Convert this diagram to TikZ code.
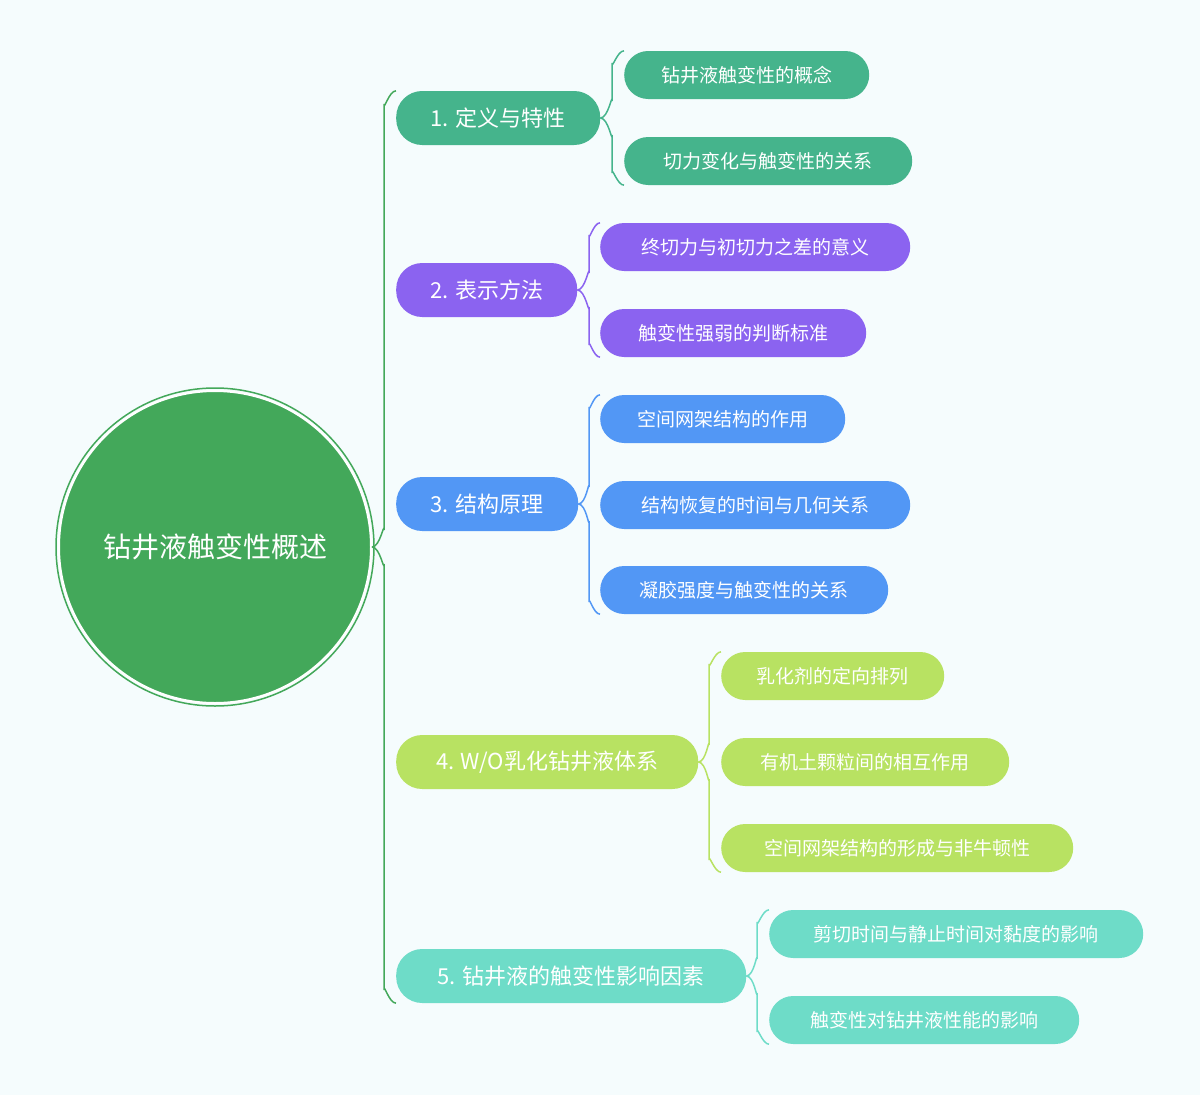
\documentclass[tikz,border=0pt]{standalone}
\usepackage{fontspec}
\setmainfont{Noto Sans CJK SC}
\definecolor{bg}{HTML}{F5FCFD}
\definecolor{cc}{HTML}{43A85A}
\definecolor{ca}{HTML}{45B48C}
\definecolor{cb}{HTML}{8B63F0}
\definecolor{cd}{HTML}{5297F5}
\definecolor{ce}{HTML}{B8E262}
\definecolor{cf}{HTML}{6EDCC8}
\begin{document}
\begin{tikzpicture}[x=1pt,y=-1pt,
 mainbox/.style={rounded corners=26pt,minimum height=54pt,inner xsep=14pt,text=white,font=\fontsize{22}{24}\selectfont,anchor=west},
 childbox/.style={rounded corners=24pt,minimum height=48pt,inner xsep=14pt,text=white,font=\fontsize{19}{21}\selectfont,anchor=west},
 br/.style={line width=1.5pt}]
\fill[bg] (0,0) rectangle (1200,1095);
\node[circle,fill=cc,draw=white,line width=2pt,minimum size=312pt,text=white,font=\fontsize{28}{30}\selectfont] (c) at (215,547) {钻井液触变性概述};
\draw[cc,line width=1.5pt] (215,547) circle (159);
\node[mainbox,fill=ca,minimum width=204pt] (m1) at (396,118) {1. 定义与特性};
\node[mainbox,fill=cb,minimum width=181pt] (m2) at (396,290) {2. 表示方法};
\node[mainbox,fill=cd,minimum width=182pt] (m3) at (396,504) {3. 结构原理};
\node[mainbox,fill=ce,minimum width=302pt] (m4) at (396,762) {4. W/O乳化钻井液体系};
\node[mainbox,fill=cf,minimum width=350pt] (m5) at (396,976) {5. 钻井液的触变性影响因素};
\node[childbox,fill=ca,minimum width=245pt] (a1) at (624,75) {钻井液触变性的概念};
\node[childbox,fill=ca,minimum width=288pt] (a2) at (624,161) {切力变化与触变性的关系};
\node[childbox,fill=cb,minimum width=310pt] (b1) at (600,247) {终切力与初切力之差的意义};
\node[childbox,fill=cb,minimum width=266pt] (b2) at (600,333) {触变性强弱的判断标准};
\node[childbox,fill=cd,minimum width=245pt] (d1) at (600,419) {空间网架结构的作用};
\node[childbox,fill=cd,minimum width=310pt] (d2) at (600,505) {结构恢复的时间与几何关系};
\node[childbox,fill=cd,minimum width=288pt] (d3) at (600,590) {凝胶强度与触变性的关系};
\node[childbox,fill=ce,minimum width=223pt] (e1) at (721,676) {乳化剂的定向排列};
\node[childbox,fill=ce,minimum width=288pt] (e2) at (721,762) {有机土颗粒间的相互作用};
\node[childbox,fill=ce,minimum width=352pt] (e3) at (721,848) {空间网架结构的形成与非牛顿性};
\node[childbox,fill=cf,minimum width=374pt] (f1) at (769,934) {剪切时间与静止时间对黏度的影响};
\node[childbox,fill=cf,minimum width=310pt] (f2) at (769,1020) {触变性对钻井液性能的影响};
% trunk
\draw[br,cc] (c.east) to[out=0,in=90] (384,530) -- (384,104) to[out=-90,in=180] (m1.west |- m1.north);
\draw[br,cc] (c.east) to[out=0,in=-90] (384,564) -- (384,990) to[out=90,in=180] (m5.west |- m5.south);
% groups
\draw[br,ca] (m1.east) to[out=0,in=90] (612,101) -- (612,63) to[out=-90,in=180] (a1.west |- a1.north);
\draw[br,ca] (m1.east) to[out=0,in=-90] (612,135) -- (612,173) to[out=90,in=180] (a2.west |- a2.south);
\draw[br,cb] (m2.east) to[out=0,in=90] (589,273) -- (589,235) to[out=-90,in=180] (b1.west |- b1.north);
\draw[br,cb] (m2.east) to[out=0,in=-90] (589,307) -- (589,345) to[out=90,in=180] (b2.west |- b2.south);
\draw[br,cd] (m3.east) to[out=0,in=90] (589,487) -- (589,407) to[out=-90,in=180] (d1.west |- d1.north);
\draw[br,cd] (m3.east) to[out=0,in=-90] (589,521) -- (589,602) to[out=90,in=180] (d3.west |- d3.south);
\draw[br,ce] (m4.east) to[out=0,in=90] (709,745) -- (709,664) to[out=-90,in=180] (e1.west |- e1.north);
\draw[br,ce] (m4.east) to[out=0,in=-90] (709,779) -- (709,860) to[out=90,in=180] (e3.west |- e3.south);
\draw[br,cf] (m5.east) to[out=0,in=90] (757,959) -- (757,922) to[out=-90,in=180] (f1.west |- f1.north);
\draw[br,cf] (m5.east) to[out=0,in=-90] (757,993) -- (757,1032) to[out=90,in=180] (f2.west |- f2.south);
\end{tikzpicture}
\end{document}
